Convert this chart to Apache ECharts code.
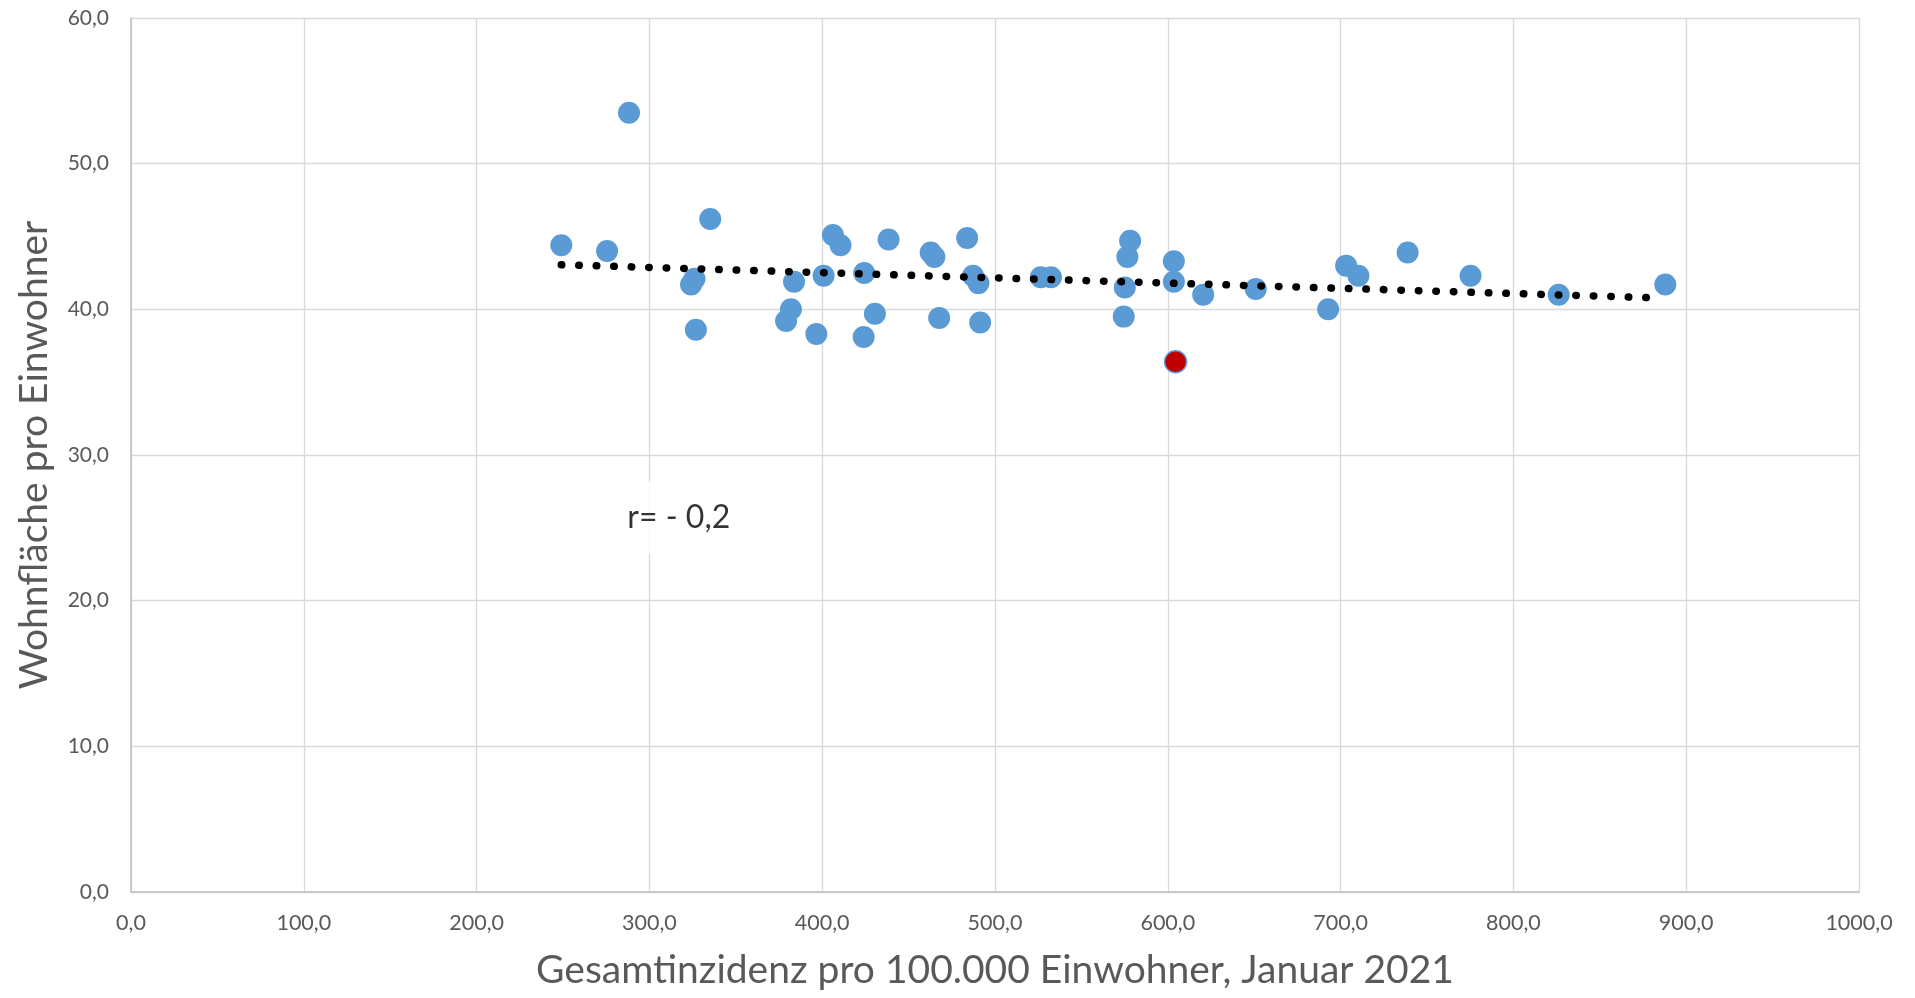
<!DOCTYPE html>
<html>
<head>
<meta charset="utf-8">
<script src="https://cdn.jsdelivr.net/npm/echarts@6/dist/echarts.min.js"></script>
<style>
html,body{margin:0;padding:0;background:#fff;}
#chart{width:1915px;height:998px;}
</style>
</head>
<body>
<div id="chart"></div>
<script>
// Gesamtinzidenz pro 100.000 Einwohner (x) and Wohnfläche pro Einwohner (y)
var incidence = [249, 275.5, 288.2, 324.1, 326.1, 326.9, 335.2, 379.1, 381.9, 383.7, 396.6, 400.8, 406.2, 410.6, 424.3, 424.0, 430.5, 438.4, 462.8, 464.9, 467.7, 483.9, 487.3, 490.4, 491.4, 526.5, 532.4, 575.1, 574.5, 576.6, 578.2, 603.5, 603.5, 620.5, 650.9, 692.8, 703.2, 710.3, 738.8, 775.2, 826.2, 887.9];
var livingSpace = [44.4, 44.0, 53.5, 41.7, 42.1, 38.6, 46.2, 39.2, 40.0, 41.9, 38.3, 42.3, 45.1, 44.4, 42.5, 38.1, 39.7, 44.8, 43.9, 43.6, 39.4, 44.9, 42.3, 41.8, 39.1, 42.2, 42.2, 41.5, 39.5, 43.6, 44.7, 43.3, 41.9, 41.0, 41.4, 40.0, 43.0, 42.3, 43.9, 42.3, 41.0, 41.7];
// highlighted district
var highlightX = [604.5];
var highlightY = [36.4];
// linear trendline endpoints
var trendX = [249, 882];
var trendY = [43.06, 40.79];
// annotation
var annotationText = 'r= - 0,2';
var annotationPos = [317, 25.7];

var xTicks = [0, 1000, 100];
var yTicks = [0, 60, 10];

function fmt(v){ return v.toFixed(1).replace('.', ','); }

var chart = echarts.init(document.getElementById('chart'), null, {renderer:'canvas'});
var mainData = incidence.map(function(x,i){ return [x, livingSpace[i]]; });
var hlData = highlightX.map(function(x,i){ return [x, highlightY[i]]; });
var trendData = trendX.map(function(x,i){ return [x, trendY[i]]; });

var option = {
  animation: false,
  backgroundColor: '#ffffff',
  grid: { left: 131, right: 56, top: 18, bottom: 106 },
  xAxis: {
    type: 'value', min: xTicks[0], max: xTicks[1], interval: xTicks[2],
    name: 'Gesamtinzidenz pro 100.000 Einwohner, Januar 2021',
    nameLocation: 'middle', nameGap: 59,
    nameTextStyle: { fontFamily: 'Lato', fontSize: 39, color: '#595959' },
    axisLine: { show: true, lineStyle: { color: '#BFBFBF', width: 1.5 } },
    axisTick: { show: false },
    axisLabel: { formatter: fmt, fontFamily: 'Lato', fontSize: 21.5, color: '#595959', margin: 20 },
    splitLine: { show: true, lineStyle: { color: '#D9D9D9', width: 1.3 } }
  },
  yAxis: {
    type: 'value', min: yTicks[0], max: yTicks[1], interval: yTicks[2],
    name: 'Wohnfläche pro Einwohner',
    nameLocation: 'middle', nameGap: 77, nameRotate: 90,
    nameTextStyle: { fontFamily: 'Lato', fontSize: 39, color: '#595959' },
    axisLine: { show: true, lineStyle: { color: '#BFBFBF', width: 1.5 } },
    axisTick: { show: false },
    axisLabel: { formatter: fmt, fontFamily: 'Lato', fontSize: 21, color: '#595959', margin: 22 },
    splitLine: { show: true, lineStyle: { color: '#D9D9D9', width: 1.3 } }
  },
  series: [
    {
      type: 'scatter', data: mainData, symbol: 'circle', symbolSize: 22,
      itemStyle: { color: '#5B9BD5', opacity: 1 }, z: 2
    },
    {
      type: 'scatter', data: hlData, symbol: 'circle', symbolSize: 22,
      itemStyle: { color: '#C00000', borderColor: '#5B9BD5', borderWidth: 1.5, opacity: 1 }, z: 3
    },
    {
      type: 'line', data: trendData, symbol: 'none', silent: true, z: 4,
      lineStyle: { color: '#000000', width: 7.5, type: [0.5, 17], cap: 'round' }
    },
    {
      type: 'scatter', data: [annotationPos], symbolSize: 0, silent: true, z: 5,
      label: {
        show: true, position: 'inside', formatter: annotationText,
        fontFamily: 'Lato', fontSize: 32, color: '#000000',
        backgroundColor: '#ffffff', padding: [20, 22]
      }
    }
  ]
};
chart.setOption(option);
</script>
</body>
</html>
